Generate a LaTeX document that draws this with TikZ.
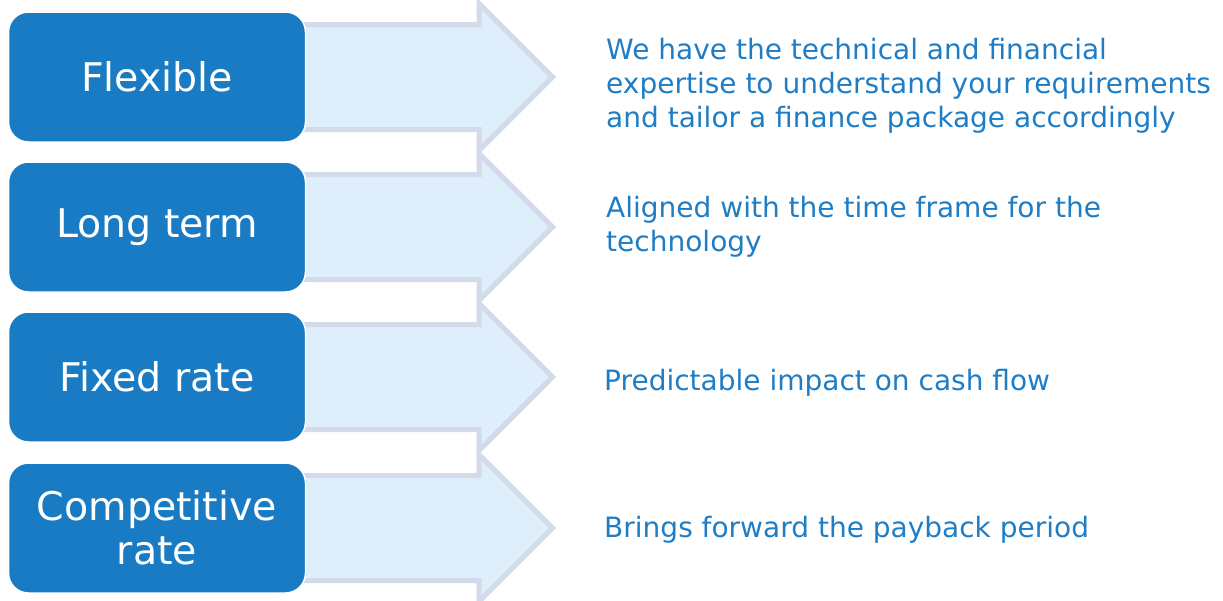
\documentclass[tikz,border=0pt]{standalone}
\usepackage{fontspec}
\setmainfont{DejaVu Sans}
\usepackage{tikz}
\usetikzlibrary{positioning,shapes.arrows}

\definecolor{keyblue}{HTML}{187BC3}
\definecolor{textblue}{HTML}{1E7DC5}
\definecolor{arrowfill}{HTML}{DEEEFB}
\definecolor{arrowline}{HTML}{D3DBEA}

\begin{document}
\begin{tikzpicture}[
    x=1pt, y=-1pt,
    keybox/.style={fill=keyblue, draw=white, line width=1.5pt, rounded corners=20pt,
        minimum width=297pt, minimum height=130pt, align=center, text=white,
        font=\fontsize{39.5}{44}\selectfont},
    arrowshape/.style={single arrow, single arrow head extend=21pt, single arrow head indent=0pt,
        fill=arrowfill, draw=arrowline, line width=5pt, minimum height=250pt,
        inner xsep=0pt, inner ysep=50pt, anchor=tail},
    desc/.style={anchor=west, align=left, inner sep=0pt, text=textblue,
        font=\fontsize{28}{34}\selectfont}
]
\useasboundingbox (0,0) rectangle (1223,600);

% Light arrows behind the keys
\node[arrowshape] (a1) at (300,77) {};
\node[arrowshape] (a2) at (300,227) {};
\node[arrowshape] (a3) at (300,377) {};
\node[arrowshape] (a4) at (300,528) {};

% Keys
\node[keybox] (flexible) at (157,77) {Flexible};
\node[keybox] (longterm) at (157,227) {Long term};
\node[keybox] (fixed) at (157,377) {Fixed rate};
\node[keybox] (competitive) at (157,528) {Competitive\\rate};

% Descriptions
\node[desc, right=50pt of a1.tip, yshift=-9pt] (d1) {We have the technical and financial\\expertise to understand your requirements\\and tailor a finance package accordingly};
\node[desc, right=50pt of a2.tip, yshift=0pt] (d2) {Aligned with the time frame for the\\technology};
\node[desc, right=48pt of a3.tip, yshift=-6pt] (d3) {Predictable impact on cash flow};
\node[desc, right=48pt of a4.tip, yshift=-2pt] (d4) {Brings forward the payback period};

\end{tikzpicture}
\end{document}
